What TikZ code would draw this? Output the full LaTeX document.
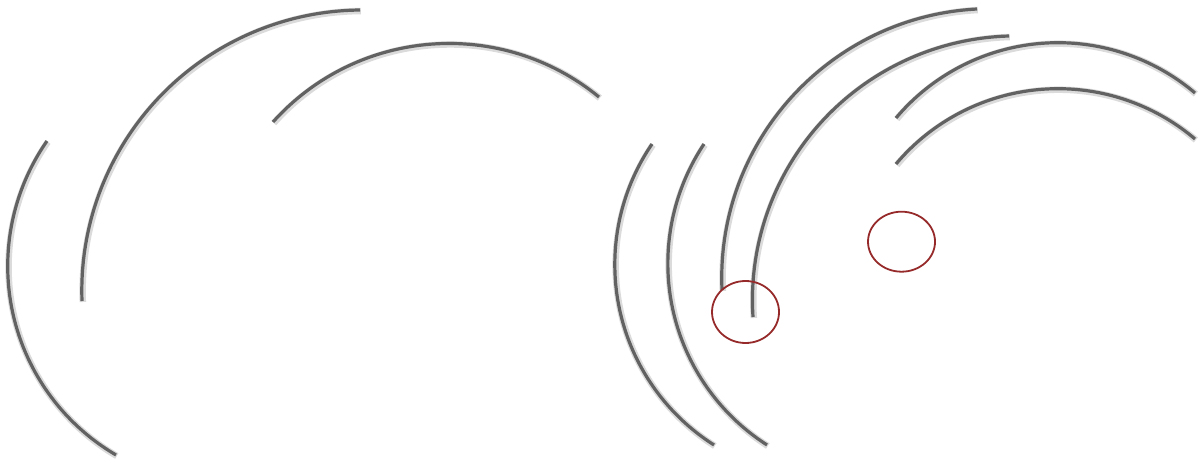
\documentclass[tikz,border=0pt]{standalone}
\definecolor{arcgray}{RGB}{98,98,98}
\definecolor{ringred}{RGB}{150,42,42}
\tikzset{
  arcline/.style={draw=arcgray, line width=0.032cm},
  arcshadow/.style={draw=black!14, line width=0.065cm},
  ring/.style={draw=ringred, line width=0.018cm}
}
% arc through three points given in image pixels (x right, y down)
\newcommand\threeptarc[6]{%
  \pgfmathsetmacro\Ax{#1/100}\pgfmathsetmacro\Ay{(462-#2)/100}%
  \pgfmathsetmacro\Bx{#3/100}\pgfmathsetmacro\By{(462-#4)/100}%
  \pgfmathsetmacro\Cx{#5/100}\pgfmathsetmacro\Cy{(462-#6)/100}%
  \pgfmathsetmacro\Dd{2*(\Ax*(\By-\Cy)+\Bx*(\Cy-\Ay)+\Cx*(\Ay-\By))}%
  \pgfmathsetmacro\Aq{\Ax*\Ax+\Ay*\Ay}%
  \pgfmathsetmacro\Bq{\Bx*\Bx+\By*\By}%
  \pgfmathsetmacro\Cq{\Cx*\Cx+\Cy*\Cy}%
  \pgfmathsetmacro\Ux{(\Aq*(\By-\Cy)+\Bq*(\Cy-\Ay)+\Cq*(\Ay-\By))/\Dd}%
  \pgfmathsetmacro\Uy{(\Aq*(\Cx-\Bx)+\Bq*(\Ax-\Cx)+\Cq*(\Bx-\Ax))/\Dd}%
  \pgfmathsetmacro\Rr{veclen(\Ax-\Ux,\Ay-\Uy)}%
  \pgfmathsetmacro\aA{atan2(\Ay-\Uy,\Ax-\Ux)}%
  \pgfmathsetmacro\aB{atan2(\By-\Uy,\Bx-\Ux)}%
  \pgfmathsetmacro\aC{atan2(\Cy-\Uy,\Cx-\Ux)}%
  \pgfmathsetmacro\dAC{mod(\aC-\aA+720,360)}%
  \pgfmathsetmacro\dAB{mod(\aB-\aA+720,360)}%
  \pgfmathsetmacro\aE{\dAB<\dAC ? \aA+\dAC : \aA+\dAC-360}%
  \draw[arcshadow, shift={(0.008,-0.01)}] (\Ax,\Ay) arc[start angle=\aA, end angle=\aE, radius=\Rr];
  \draw[arcline] (\Ax,\Ay) arc[start angle=\aA, end angle=\aE, radius=\Rr];
}
\begin{document}
\begin{tikzpicture}[x=1cm,y=1cm]
\useasboundingbox (0,0) rectangle (12.02,4.62);
% left group
\threeptarc{47}{141}{8}{255}{116}{455}
\threeptarc{82}{301}{193}{67}{360}{10}
\threeptarc{273}{122}{433}{44}{599}{97}
% right group
\threeptarc{652}{144}{615}{255}{714}{445}
\threeptarc{704}{144}{668}{255}{767}{445}
\threeptarc{722}{290}{783}{107}{977}{9}
\threeptarc{753}{317}{833}{110}{1009}{36}
\threeptarc{896}{118}{1047}{43}{1195}{93}
\threeptarc{896}{164}{1047}{89}{1195}{139}
% rings
\draw[ring] (7.455,{(462-312)/100}) ellipse[x radius=0.335, y radius=0.31];
\draw[ring] (9.015,{(462-241.7)/100}) ellipse[x radius=0.335, y radius=0.30];
\end{tikzpicture}
\end{document}
